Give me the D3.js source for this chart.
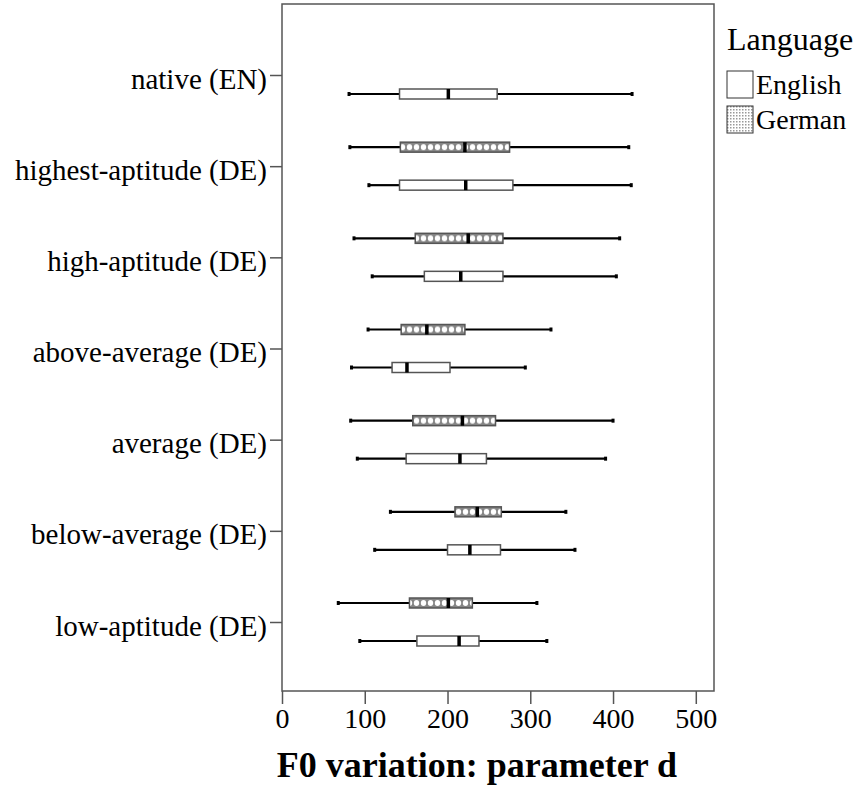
<!DOCTYPE html>
<html>
<head>
<meta charset="utf-8">
<script src="https://cdn.jsdelivr.net/npm/d3@7"></script>
<style>
    body { margin: 0; background: #fff; }
    svg text { font-family: "Liberation Serif", "Times New Roman", serif; fill: #000; }
</style>
</head>
<body>
<svg id="chart" width="860" height="790"></svg>
<script>
var categories = ["native (EN)", "highest-aptitude (DE)", "high-aptitude (DE)", "above-average (DE)",
    "average (DE)", "below-average (DE)", "low-aptitude (DE)"];
var xTicks = [0, 100, 200, 300, 400, 500];

// English boxes (min, q1, median, q3, max)
var englishMin = [81, 105, 109, 84, 91, 112, 94];
var englishQ1 = [142, 142, 172, 133, 150, 200, 163];
var englishMedian = [201, 222, 216, 151, 215, 227, 214];
var englishQ3 = [260, 279, 267, 203, 247, 264, 238];
var englishMax = [423, 422, 404, 294, 391, 354, 320];

// German boxes, none for native speakers
var germanMin = [null, 82, 87, 104, 83, 131, 68];
var germanQ1 = [null, 143, 161, 144, 158, 209, 154];
var germanMedian = [null, 221, 225, 175, 218, 236, 201];
var germanQ3 = [null, 275, 267, 221, 258, 265, 230];
var germanMax = [null, 419, 408, 325, 400, 343, 308];

var languages = ["English", "German"];

var plot = { left: 282, right: 714, top: 4, bottom: 691 };
var boxHeight = 10;
var offset = { English: 19, German: -19 };

var svg = d3.select("#chart");

// dotted fill for German boxes: white ovals on grey
var defs = svg.append("defs");
var pat = defs.append("pattern")
    .attr("id", "dots")
    .attr("patternUnits", "userSpaceOnUse")
    .attr("x", 0)
    .attr("y", -boxHeight / 2)
    .attr("width", 7)
    .attr("height", boxHeight);
pat.append("rect").attr("width", 7).attr("height", boxHeight).attr("fill", "#858585");
pat.append("ellipse").attr("cx", 3.5).attr("cy", boxHeight / 2).attr("rx", 2.7).attr("ry", 3).attr("fill", "#fff");

// finer stipple for the legend swatch
var pat2 = defs.append("pattern")
    .attr("id", "dotsFine")
    .attr("patternUnits", "userSpaceOnUse")
    .attr("width", 3)
    .attr("height", 3);
pat2.append("rect").attr("width", 3).attr("height", 3).attr("fill", "#fff");
pat2.append("rect").attr("width", 1.5).attr("height", 1.5).attr("fill", "#999");

var x = d3.scaleLinear()
    .domain([0, 522])
    .range([plot.left, plot.right]);

var y = d3.scalePoint()
    .domain(categories)
    .range([75, 622]);

// build records
var records = [];
categories.forEach(function (c, i) {
    records.push({ cat: c, lang: "English", min: englishMin[i], q1: englishQ1[i], med: englishMedian[i], q3: englishQ3[i], max: englishMax[i] });
    if (germanMin[i] != null) {
        records.push({ cat: c, lang: "German", min: germanMin[i], q1: germanQ1[i], med: germanMedian[i], q3: germanQ3[i], max: germanMax[i] });
    }
});

// frame
svg.append("rect")
    .attr("x", plot.left)
    .attr("y", plot.top)
    .attr("width", plot.right - plot.left)
    .attr("height", plot.bottom - plot.top)
    .attr("fill", "none")
    .attr("stroke", "#555")
    .attr("stroke-width", 1.5);

// axes
var yAxis = d3.axisLeft(y).tickSize(12).tickPadding(3);
var gy = svg.append("g")
    .attr("transform", `translate(${plot.left}, 0)`)
    .call(yAxis);
gy.select(".domain").remove();
gy.selectAll(".tick line").attr("stroke", "#555").attr("stroke-width", 1.5);
gy.selectAll(".tick text")
    .attr("font-size", 29)
    .attr("dy", "0.45em");

var xAxis = d3.axisBottom(x).tickValues(xTicks).tickSize(13).tickPadding(4);
var gx = svg.append("g")
    .attr("transform", `translate(0, ${plot.bottom})`)
    .call(xAxis);
gx.select(".domain").remove();
gx.selectAll(".tick line").attr("stroke", "#555").attr("stroke-width", 1.5);
gx.selectAll(".tick text").attr("font-size", 28);

svg.append("text")
    .attr("x", 477)
    .attr("y", 777)
    .attr("text-anchor", "middle")
    .attr("font-size", 36)
    .attr("font-weight", "bold")
    .text("F0 variation: parameter d");

// boxes
var boxes = svg.append("g").selectAll("g")
    .data(records)
    .enter()
    .append("g")
    .attr("transform", function (d) { return `translate(0, ${y(d.cat) + offset[d.lang]})`; });

boxes.append("line")
    .attr("x1", d => x(d.min))
    .attr("x2", d => x(d.q1))
    .attr("stroke", "#000")
    .attr("stroke-width", 2.2);
boxes.append("line")
    .attr("x1", d => x(d.q3))
    .attr("x2", d => x(d.max))
    .attr("stroke", "#000")
    .attr("stroke-width", 2.2);
// little end caps
boxes.selectAll(".cap")
    .data(d => [d.min, d.max])
    .enter()
    .append("rect")
    .attr("x", v => x(v) - 1.5)
    .attr("y", -2)
    .attr("width", 3)
    .attr("height", 4)
    .attr("fill", "#000");

boxes.append("rect")
    .attr("x", d => x(d.q1))
    .attr("y", -boxHeight / 2)
    .attr("width", d => x(d.q3) - x(d.q1))
    .attr("height", boxHeight)
    .attr("fill", d => d.lang == "German" ? "url(#dots)" : "#fff")
    .attr("stroke", "#555")
    .attr("stroke-width", 1.5);

boxes.append("line")
    .attr("x1", d => x(d.med))
    .attr("x2", d => x(d.med))
    .attr("y1", -boxHeight / 2)
    .attr("y2", boxHeight / 2)
    .attr("stroke", "#000")
    .attr("stroke-width", 3.5);

// legend
var legend = svg.append("g").attr("transform", "translate(727, 0)");
legend.append("text")
    .attr("x", 0)
    .attr("y", 50)
    .attr("font-size", 32)
    .text("Language");

var items = legend.selectAll(".item")
    .data(languages)
    .enter()
    .append("g")
    .attr("transform", (d, i) => `translate(0, ${71 + i * 35})`);
items.append("rect")
    .attr("width", 26)
    .attr("height", 27)
    .attr("fill", d => d == "German" ? "url(#dotsFine)" : "#fff")
    .attr("stroke", "#333")
    .attr("stroke-width", 1);
items.append("text")
    .attr("x", 29)
    .attr("y", 23)
    .attr("font-size", 28)
    .text(d => d);
</script>
</body>
</html>
